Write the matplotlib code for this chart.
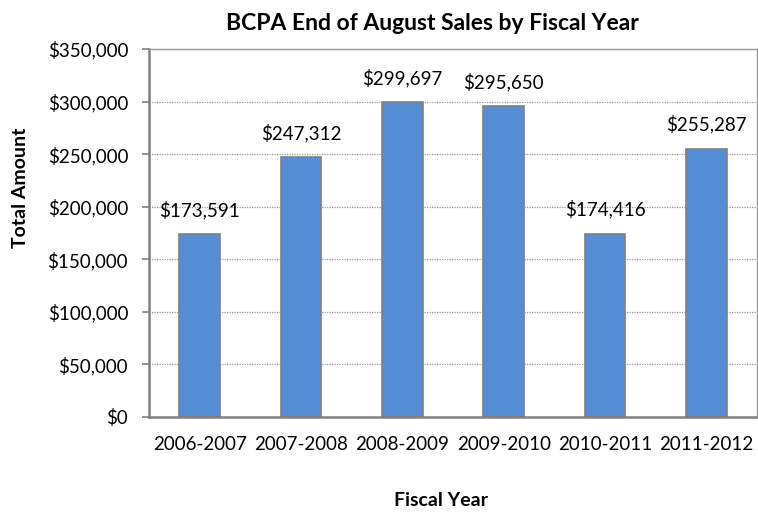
import matplotlib.pyplot as plt
from matplotlib.ticker import FuncFormatter

# Chart data
fiscal_years = ['2006-2007', '2007-2008', '2008-2009', '2009-2010', '2010-2011', '2011-2012']
sales = [173591, 247312, 299697, 295650, 174416, 255287]
y_ticks = [0, 50000, 100000, 150000, 200000, 250000, 300000, 350000]

plt.rcParams['font.family'] = ['Lato', 'DejaVu Sans']

W, H = 758, 512
fig = plt.figure(figsize=(W / 100, H / 100), dpi=100)
# plot area in pixels: left 149, right 757, top 49, bottom 417
ax = fig.add_axes([149 / W, 1 - 417 / H, (757 - 149) / W, (417 - 49) / H])

x = range(len(fiscal_years))
bars = ax.bar(x, sales, width=0.4, color='#558ED5', edgecolor='#808080', linewidth=1.2, zorder=3)

ax.set_xlim(-0.5, len(fiscal_years) - 0.5)
ax.set_ylim(0, 350000)
ax.set_yticks(y_ticks)
ax.yaxis.set_major_formatter(FuncFormatter(lambda v, p: '${:,.0f}'.format(v)))
ax.set_xticks(list(x))
ax.set_xticklabels(fiscal_years)

ax.tick_params(axis='y', length=5, color='#808080', width=1.2, labelsize=13.5, pad=10)
ax.tick_params(axis='x', length=0, labelsize=13.5, pad=14)

ax.grid(axis='y', linestyle=(0, (1, 1)), color='#999999', linewidth=0.9, zorder=0)

for side in ['left', 'bottom']:
    ax.spines[side].set_color('#808080')
    ax.spines[side].set_linewidth(1.8)
for side in ['top', 'right']:
    ax.spines[side].set_color('#999999')
    ax.spines[side].set_linewidth(1.0)

# data labels
for rect, val in zip(bars, sales):
    ax.annotate('${:,.0f}'.format(val), (rect.get_x() + rect.get_width() / 2, val),
                xytext=(0, 17.5), textcoords='offset points', ha='center', va='center', fontsize=13.5)

fig.text(432 / W, 1 - 24 / H, 'BCPA End of August Sales by Fiscal Year',
         ha='center', va='center', fontsize=16.5, fontweight='bold')
fig.text(441 / W, 1 - 501 / H, 'Fiscal Year', ha='center', va='center', fontsize=14, fontweight='bold')
fig.text(21 / W, 1 - 188 / H, 'Total Amount', ha='center', va='center', rotation=90,
         fontsize=14, fontweight='bold')

plt.savefig('out.png', dpi=100)
